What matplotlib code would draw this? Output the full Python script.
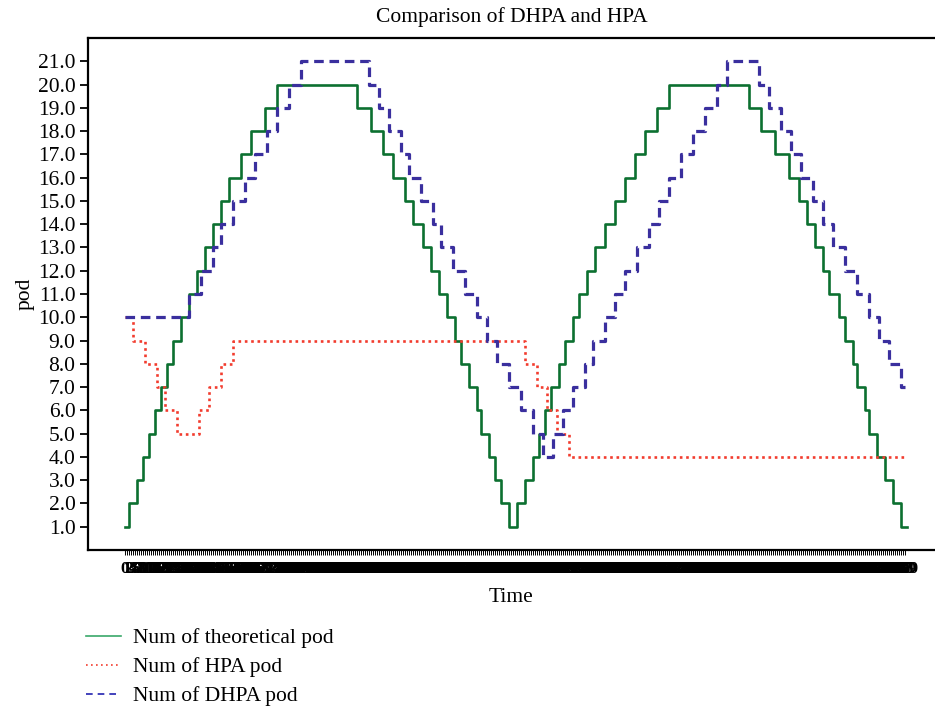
import matplotlib
matplotlib.use("Agg")
import matplotlib.pyplot as plt
from matplotlib.lines import Line2D

plt.rcParams['font.family'] = ['Liberation Serif', 'DejaVu Serif']

# change points: time index where a new pod count starts, and that count
t_theory = [0, 2, 6, 9, 12, 15, 18, 21, 24, 28, 32, 36, 40, 44, 48, 52, 58, 63, 70, 76,
            116, 123, 129, 134, 140, 144, 149, 153, 157, 161, 165, 168, 172, 176, 178, 182, 185, 188, 192,
            196, 200, 204, 207, 210, 213, 217, 220, 224, 227, 231, 235, 240, 245, 250, 255, 260, 266, 272,
            312, 318, 325, 332, 337, 341, 345, 349, 352, 357, 360, 364, 366, 370, 372, 376, 380, 384, 388,
            391]
v_theory = [1, 2, 3, 4, 5, 6, 7, 8, 9, 10, 11, 12, 13, 14, 15, 16, 17, 18, 19, 20,
            19, 18, 17, 16, 15, 14, 13, 12, 11, 10, 9, 8, 7, 6, 5, 4, 3, 2, 1,
            2, 3, 4, 5, 6, 7, 8, 9, 10, 11, 12, 13, 14, 15, 16, 17, 18, 19, 20,
            19, 18, 17, 16, 15, 14, 13, 12, 11, 10, 9, 8, 7, 6, 5, 4, 3, 2, 1,
            1]

t_hpa = [0, 4, 10, 16, 20, 26, 37, 42, 48, 54, 200, 206, 211, 216, 222, 390]
v_hpa = [10, 9, 8, 7, 6, 5, 6, 7, 8, 9, 8, 7, 6, 5, 4, 4]

t_dhpa = [0, 32, 38, 44, 48, 54, 60, 65, 71, 76, 82, 88,
          122, 127, 132, 138, 142, 148, 154, 158, 164, 170, 176, 181, 186, 192, 198, 204, 209,
          214, 219, 224, 230, 234, 240, 245, 250, 256, 262, 267, 272, 278, 284, 290, 296, 301,
          317, 322, 328, 333, 338, 344, 349, 354, 360, 366, 372, 377, 382, 388, 390]
v_dhpa = [10, 11, 12, 13, 14, 15, 16, 17, 18, 19, 20, 21,
          20, 19, 18, 17, 16, 15, 14, 13, 12, 11, 10, 9, 8, 7, 6, 5, 4,
          5, 6, 7, 8, 9, 10, 11, 12, 13, 14, 15, 16, 17, 18, 19, 20, 21,
          20, 19, 18, 17, 16, 15, 14, 13, 12, 11, 10, 9, 8, 7, 7]

n_samples = 391
time_labels = [str(i) for i in range(n_samples)]
y_ticks = [1, 2, 3, 4, 5, 6, 7, 8, 9, 10, 11, 12, 13, 14, 15, 16, 17, 18, 19, 20, 21]

green = '#0c7030'
red = '#f23c2e'
blue = '#3a2f9e'
fs = 15.5

fig = plt.figure(figsize=(9.35, 7.10), dpi=100)
ax = fig.add_axes([0.0941, 0.2254, 0.9059, 0.7211])

ax.plot(t_theory, v_theory, drawstyle='steps-post', color=green, lw=1.9)
ax.plot(t_hpa, v_hpa, drawstyle='steps-post', color=red, lw=1.9, linestyle=(0, (1, 1.4)))
ax.plot(t_dhpa, v_dhpa, drawstyle='steps-post', color=blue, lw=2.3, linestyle=(0, (3, 1.8)))

ax.set_xlim(-18.5, 405)
ax.set_ylim(0, 22)
ax.set_yticks(y_ticks)
ax.set_yticklabels(['%.1f' % y for y in y_ticks], fontsize=fs)
ax.set_xticks(range(n_samples))
ax.set_xticklabels(time_labels, fontsize=12.5, fontweight='bold')
ax.tick_params(axis='x', length=3.5, width=0.7, pad=4.5)
ax.tick_params(axis='y', length=6, width=1.3, pad=3)

for s in ['left', 'top', 'bottom']:
    ax.spines[s].set_linewidth(1.6)
ax.spines['right'].set_visible(False)

ax.set_title('Comparison of DHPA and HPA', fontsize=fs, pad=11.5)
ax.set_xlabel('Time', fontsize=fs, labelpad=8)
ax.set_ylabel('pod', fontsize=fs, labelpad=2)

handles = [Line2D([], [], color='#3aa86a', lw=1.2),
           Line2D([], [], color=red, lw=1.2, linestyle=(0, (1, 2))),
           Line2D([], [], color='#2222b0', lw=1.2, linestyle=(0, (4, 3)))]
fig.legend(handles, ['Num of theoretical pod', 'Num of HPA pod', 'Num of DHPA pod'],
           loc='upper left', bbox_to_anchor=(0.092, 0.115), frameon=False,
           fontsize=fs, handlelength=1.63, handletextpad=0.56, labelspacing=0.41,
           borderpad=0, borderaxespad=0)

fig.savefig('out.png', dpi=100)
